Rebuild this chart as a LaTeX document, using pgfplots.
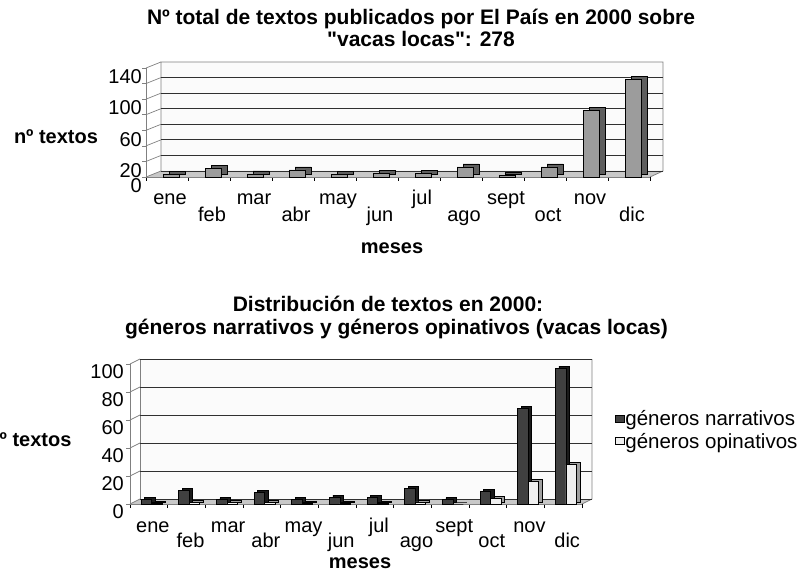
\documentclass[border=0pt]{standalone}
\usepackage{pgfplots}
\pgfplotsset{compat=1.18}
\usepackage{pgfplotstable}
\usepackage{fontspec}
\setmainfont{Liberation Sans}
\newfontfamily\rawsans{Liberation Sans}[Ligatures=TeXOff]

\definecolor{wallc}{HTML}{FBFBFB}
\definecolor{floorc}{HTML}{C8C8C8}
\definecolor{edgec}{HTML}{808080}
\definecolor{gridc}{HTML}{303030}
\definecolor{barA}{HTML}{9C9C9C}
\definecolor{barAs}{HTML}{5E5E5E}
\definecolor{barN}{HTML}{404040}
\definecolor{barNs}{HTML}{1A1A1A}
\definecolor{barO}{HTML}{EFEFEF}
\definecolor{barOs}{HTML}{A0A0A0}

\newcommand\fs{\fontsize{20}{24}\selectfont}
\newcommand\fb{\fontsize{21}{24}\selectfont\bfseries}
\newcommand\fl{\fontsize{20}{24}\selectfont\bfseries}

\pgfplotstableread{
m total
0 3
1 11
2 4
3 9
4 3
5 5
6 5
7 13
8 2
9 13
10 85
11 125
}\toptable

\pgfplotstableread{
m narr opin
0 3 0.5
1 10 1
2 3 1
3 8 1
4 3 0.5
5 5 0.5
6 5 0.5
7 11 1.5
8 3 0
9 9 4
10 68 16
11 97 28
}\bottable

\begin{document}
\begin{tikzpicture}[x=1pt,y=1pt]

% ---------------- top chart ----------------
\node[font=\fb, anchor=base] at (421,549) {Nº total de textos publicados por El País en 2000 sobre};
\node[font=\fb\rawsans, anchor=base] at (421,527) {"vacas locas": 278};
\node[font=\fl, anchor=base] at (56,430) {nº textos};
\node[font=\fl, anchor=base] at (392,320) {meses};

\begin{axis}[
  at={(146pt,397pt)}, anchor=south west,
  scale only axis, width=504pt, height=109pt,
  xmin=-0.5, xmax=11.5, ymin=0, ymax=140,
  clip=false, set layers,
  axis x line*=bottom, axis y line*=left,
  axis line style={draw=edgec, line width=0.8pt, -},
  tick align=outside, major tick length=4pt, minor tick length=4pt,
  xtick={0,2,...,10}, xticklabels={ene,mar,may,jul,sept,nov},
  extra x ticks={1,3,...,11}, extra x tick labels={feb,abr,jun,ago,oct,dic},
  extra x tick style={xticklabel style={yshift=-17pt}, major x tick style={draw=none}},
  major x tick style={draw=none},
  minor xtick={-0.5,0.5,...,11.5},
  minor x tick style={draw=black, line width=0.6pt},
  ytick={0,20,...,140}, yticklabels={0,20,,60,,100,,140},
  y tick style={draw=edgec, line width=0.6pt},
  typeset ticklabels with strut,
  ticklabel style={font=\fs, inner sep=0pt},
  xticklabel style={xshift=3pt, yshift=-7pt},
  yticklabel style={yshift=-11pt},
]
\begin{pgfonlayer}{axis background}
  \fill[wallc] ([shift={(15pt,6pt)}]axis cs:-0.5,0) rectangle ([shift={(13pt,6pt)}]axis cs:11.5,140);
  \fill[floorc] (axis cs:-0.5,0) -- (axis cs:11.5,0) -- ([shift={(13pt,6pt)}]axis cs:11.5,0) -- ([shift={(15pt,6pt)}]axis cs:-0.5,0) -- cycle;
  \draw[edgec, line width=0.8pt] (axis cs:11.5,0) -- ([shift={(13pt,6pt)}]axis cs:11.5,0) -- ([shift={(13pt,6pt)}]axis cs:11.5,140) -- ([shift={(15pt,6pt)}]axis cs:-0.5,140) -- ([shift={(15pt,6pt)}]axis cs:-0.5,0);
  \pgfplotsinvokeforeach{0,20,...,140}{
    \draw[edgec, line width=0.7pt] (axis cs:-0.5,#1) -- ++(15pt,6pt);
  }
\end{pgfonlayer}
\begin{pgfonlayer}{axis grid}
  \pgfplotsinvokeforeach{20,40,...,120}{
    \draw[gridc, line width=0.9pt] ([shift={(15pt,6pt)}]axis cs:-0.5,#1) -- ([shift={(13pt,6pt)}]axis cs:11.5,#1);
  }
  \draw[gridc, line width=0.6pt] ([shift={(15pt,6pt)}]axis cs:-0.5,0) -- ([shift={(13pt,6pt)}]axis cs:11.5,0);
\end{pgfonlayer}
\addplot[ybar, bar width=16pt, bar shift=10pt, yshift=3pt, fill=barAs, draw=black, line width=0.7pt, forget plot] table[x=m, y=total] {\toptable};
\addplot[ybar, bar width=16pt, bar shift=4pt, fill=barA, draw=black, line width=0.7pt, forget plot] table[x=m, y=total] {\toptable};
\end{axis}

% ---------------- bottom chart ----------------
\node[font=\fb, anchor=base] at (388,262) {Distribución de textos en 2000:};
\node[font=\fb, anchor=base] at (396.5,239) {géneros narrativos y géneros opinativos (vacas locas)};
\node[font=\fl, anchor=base east] at (75,128) {nº textos};
\node[font=\fl, anchor=base] at (360,6) {meses};

\begin{axis}[
  at={(130pt,70pt)}, anchor=south west,
  scale only axis, width=452pt, height=140pt,
  xmin=-0.5, xmax=11.5, ymin=0, ymax=100,
  clip=false, set layers,
  axis x line*=bottom, axis y line*=left,
  axis line style={draw=edgec, line width=0.8pt, -},
  tick align=outside, major tick length=4pt, minor tick length=4pt,
  xtick={0,2,...,10}, xticklabels={ene,mar,may,jul,sept,nov},
  extra x ticks={1,3,...,11}, extra x tick labels={feb,abr,jun,ago,oct,dic},
  extra x tick style={xticklabel style={yshift=-15pt}, major x tick style={draw=none}},
  major x tick style={draw=none},
  minor xtick={-0.5,0.5,...,11.5},
  minor x tick style={draw=black, line width=0.6pt},
  ytick={0,20,...,100}, yticklabels={0,20,40,60,80,100},
  y tick style={draw=edgec, line width=0.6pt},
  typeset ticklabels with strut,
  ticklabel style={font=\fs, inner sep=0pt},
  xticklabel style={xshift=4pt, yshift=-7pt},
  yticklabel style={yshift=-10pt, xshift=-2pt},
  legend style={draw=none, fill=none, at={(1.073,0.529)}, anchor=west,
    font=\fontsize{20.5}{24}\selectfont, inner sep=0pt, row sep=5pt,
    nodes={inner sep=0.5pt}, cells={anchor=west}},
]
\begin{pgfonlayer}{axis background}
  \fill[wallc] ([shift={(10pt,5pt)}]axis cs:-0.5,0) rectangle ([shift={(10pt,5pt)}]axis cs:11.5,100);
  \fill[floorc] (axis cs:-0.5,0) -- (axis cs:11.5,0) -- ([shift={(10pt,5pt)}]axis cs:11.5,0) -- ([shift={(10pt,5pt)}]axis cs:-0.5,0) -- cycle;
  \draw[edgec, line width=0.8pt] (axis cs:11.5,0) -- ([shift={(10pt,5pt)}]axis cs:11.5,0) -- ([shift={(10pt,5pt)}]axis cs:11.5,100);
  \draw[edgec, line width=0.8pt] ([shift={(10pt,5pt)}]axis cs:-0.5,100) -- ([shift={(10pt,5pt)}]axis cs:-0.5,0);
  \pgfplotsinvokeforeach{0,20,...,100}{
    \draw[edgec, line width=0.7pt] (axis cs:-0.5,#1) -- ++(10pt,5pt);
  }
\end{pgfonlayer}
\begin{pgfonlayer}{axis grid}
  \pgfplotsinvokeforeach{20,40,...,100}{
    \draw[gridc, line width=0.9pt] ([shift={(10pt,5pt)}]axis cs:-0.5,#1) -- ([shift={(10pt,5pt)}]axis cs:11.5,#1);
  }
  \draw[gridc, line width=0.6pt] ([shift={(10pt,5pt)}]axis cs:-0.5,0) -- ([shift={(10pt,5pt)}]axis cs:11.5,0);
\end{pgfonlayer}
\addplot[ybar, bar width=10.5pt, bar shift=1pt, yshift=2pt, fill=barNs, draw=black, line width=0.7pt, forget plot] table[x=m, y=narr] {\bottable};
\addplot[ybar, bar width=10.5pt, bar shift=-2.5pt, fill=barN, draw=black, line width=0.7pt,
  legend image code/.code={\draw[fill=barN, draw=black] (0pt,-3.5pt) rectangle (9pt,3.5pt);}] table[x=m, y=narr] {\bottable};
\addplot[ybar, bar width=10.5pt, bar shift=11.5pt, yshift=2pt, fill=barOs, draw=black, line width=0.7pt, forget plot] table[x=m, y=opin] {\bottable};
\addplot[ybar, bar width=10.5pt, bar shift=8pt, fill=barO, draw=black, line width=0.7pt,
  legend image code/.code={\draw[fill=barO, draw=black] (0pt,-3.5pt) rectangle (9pt,3.5pt);}] table[x=m, y=opin] {\bottable};
\legend{géneros narrativos, géneros opinativos}
\end{axis}

\pgfresetboundingbox
\path[use as bounding box] (0,0) rectangle (807,574);
\end{tikzpicture}
\end{document}
